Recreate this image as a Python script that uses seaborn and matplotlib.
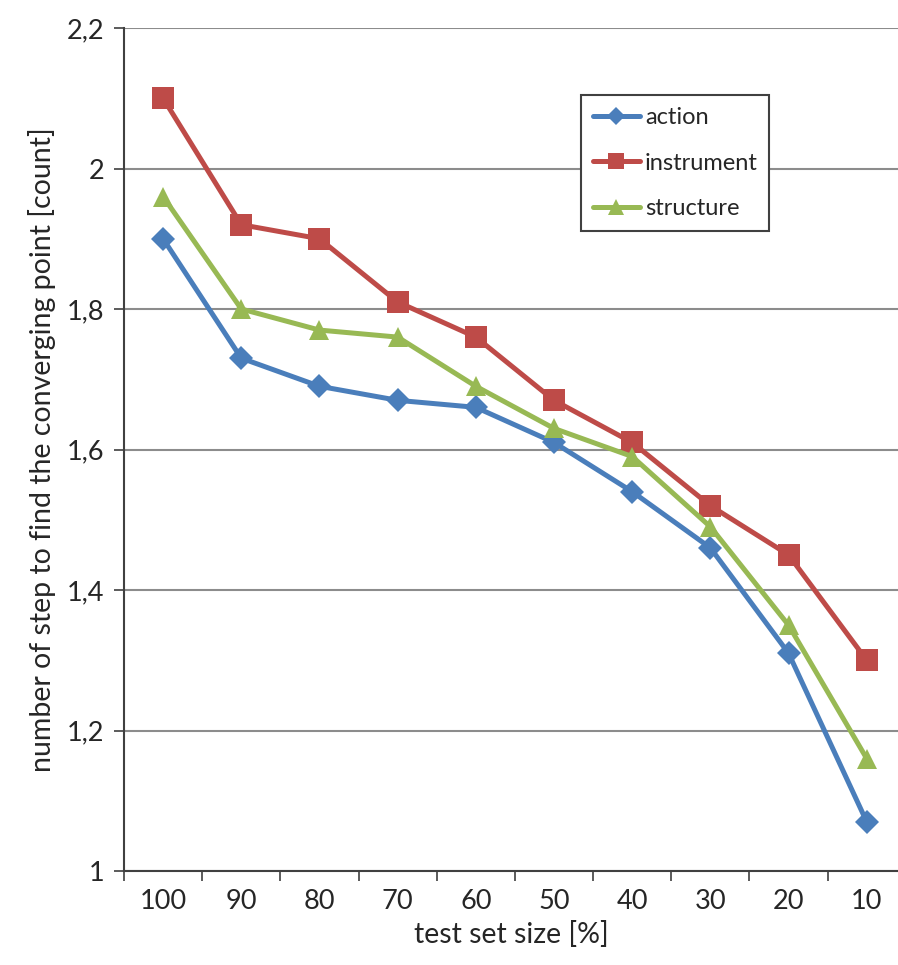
import matplotlib
matplotlib.use("Agg")
import matplotlib.pyplot as plt
import seaborn as sns
import pandas as pd
import numpy as np

categories = ["100", "90", "80", "70", "60", "50", "40", "30", "20", "10"]
action = [1.90, 1.73, 1.69, 1.67, 1.66, 1.61, 1.54, 1.46, 1.31, 1.07]
instrument = [2.10, 1.92, 1.90, 1.81, 1.76, 1.67, 1.61, 1.52, 1.45, 1.30]
structure = [1.96, 1.80, 1.77, 1.76, 1.69, 1.63, 1.59, 1.49, 1.35, 1.16]
series_names = ["action", "instrument", "structure"]
y_ticks = [1.0, 1.2, 1.4, 1.6, 1.8, 2.0, 2.2]
y_tick_labels = ["1", "1,2", "1,4", "1,6", "1,8", "2", "2,2"]

sns.set_theme(style="white")
plt.rcParams['font.family'] = ['Lato', 'DejaVu Sans']

rows = []
for name, vals in zip(series_names, [action, instrument, structure]):
    for i, (c, v) in enumerate(zip(categories, vals)):
        rows.append({"pos": i, "size": c, "value": v, "series": name})
df = pd.DataFrame(rows)

fig = plt.figure(figsize=(8.98, 9.65), dpi=100)
ax = fig.add_axes([124/898, 1-871/965, 1-124/898, (871-28)/965])

palette = {"action": "#4a7ebb", "instrument": "#be4b48", "structure": "#98b954"}
markers = {"action": "D", "instrument": "s", "structure": "^"}
sizes_m = {"action": 12, "instrument": 16, "structure": 15}

sns.lineplot(data=df, x="pos", y="value", hue="series", style="series",
             palette=palette, markers=markers, dashes=False, linewidth=3.6,
             markersize=13, markeredgewidth=0, ax=ax, legend=False)
for line, name in zip(ax.get_lines(), series_names):
    line.set_markersize(sizes_m[name])

ax.set_xlim(-0.5, 9.4)
ax.set_ylim(1.0, 2.2)
ax.set_yticks(y_ticks)
ax.set_yticklabels(y_tick_labels, fontsize=19.5)
ax.set_xticks(range(len(categories)))
ax.set_xticklabels(categories, fontsize=19.5)
ax.set_xticks(np.arange(-0.5, 9.5, 1.0), minor=True)
ax.tick_params(axis='x', which='major', length=0, pad=13)
ax.tick_params(axis='x', which='minor', length=7, width=1.2, color='#404040', direction='out', bottom=True)
ax.tick_params(axis='y', which='major', length=7, width=1.2, color='#404040', direction='out', left=True, pad=7)

ax.yaxis.grid(True, color='#8c8c8c', linewidth=1.5)
ax.xaxis.grid(False)
ax.set_axisbelow(True)
for s in ["top", "right"]:
    ax.spines[s].set_visible(False)
for s in ["left", "bottom"]:
    ax.spines[s].set_color('#404040')
    ax.spines[s].set_linewidth(1.5)

ax.set_xlabel("test set size [%]", fontsize=20.5, labelpad=5)
ax.set_ylabel("number of step to find the converging point [count]", fontsize=20.5, labelpad=8)

from matplotlib.lines import Line2D
handles = [Line2D([0], [0], color=palette[n], marker=markers[n], lw=3.6,
                  markersize=sizes_m[n] * 0.75, markeredgewidth=0) for n in series_names]
leg = fig.legend(handles, series_names, loc='upper left',
                 bbox_to_anchor=(581/898, 1-95/965), fontsize=17, frameon=True,
                 fancybox=False, edgecolor='#404040', framealpha=1,
                 handlelength=2.0, handletextpad=0.2, labelspacing=1.05,
                 borderpad=0.5, borderaxespad=0)
leg.get_frame().set_linewidth(1.5)

fig.savefig("out.png", dpi=100)
